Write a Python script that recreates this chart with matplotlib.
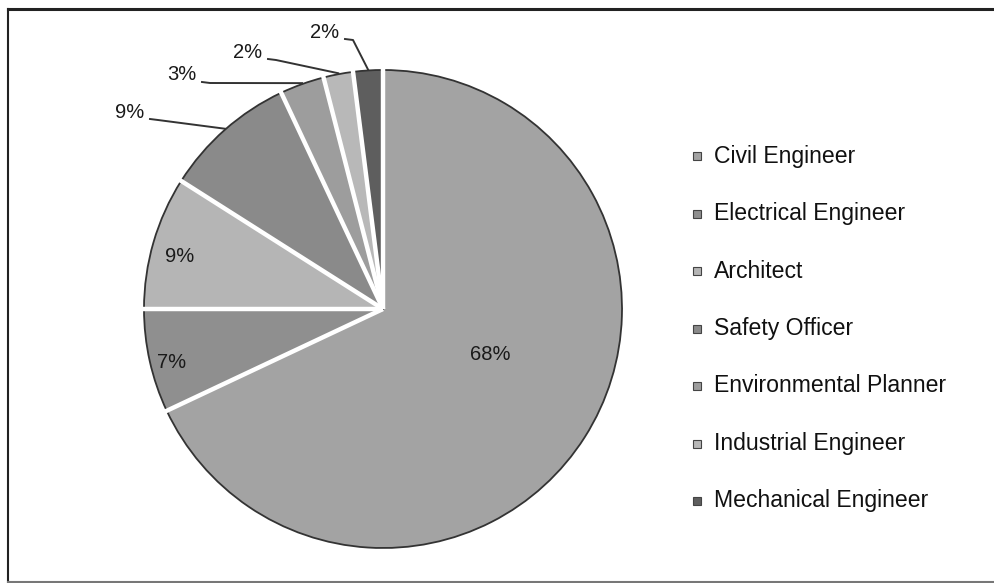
import matplotlib
matplotlib.use('Agg')
import matplotlib.pyplot as plt
import numpy as np
from matplotlib.patches import Rectangle

plt.rcParams['font.family'] = ['Liberation Sans', 'DejaVu Sans']

# data
jobs = ['Civil Engineer', 'Electrical Engineer', 'Architect', 'Safety Officer',
        'Environmental Planner', 'Industrial Engineer', 'Mechanical Engineer']
shares = [68, 7, 9, 9, 3, 2, 2]
grays = ['#a3a3a3', '#8f8f8f', '#b5b5b5', '#8a8a8a', '#9d9d9d', '#b8b8b8', '#5e5e5e']

fig = plt.figure(figsize=(9.95, 5.83), dpi=100)
ax = fig.add_axes([0, 0, 1, 1])

cx, cy, r = 383, 274, 239
wedges, _ = ax.pie(shares, colors=grays, startangle=90, counterclock=False,
                   center=(cx, cy), radius=r,
                   wedgeprops=dict(edgecolor='#333333', linewidth=1.3))

# white gaps between slices
bounds = 90 - 360 * np.cumsum([0] + shares) / sum(shares)
for a in bounds[:-1]:
    t = np.deg2rad(a)
    ax.plot([cx, cx + (r + 2) * np.cos(t)], [cy, cy + (r + 2) * np.sin(t)],
            color='white', lw=3.2, solid_capstyle='butt', zorder=3)

# labels: inside for big slices, outside with leader lines for the rest
inside = {0: (490, 228), 1: (172, 220), 2: (180, 326)}
outside = {3: (130, 471), 4: (182, 508), 5: (248, 531), 6: (325, 551)}
for i, w in enumerate(wedges):
    txt = '%d%%' % shares[i]
    if i in inside:
        ax.text(*inside[i], txt, ha='center', va='center', fontsize=14.5,
                color='#1a1a1a', zorder=4)
    else:
        mid = np.deg2rad((w.theta1 + w.theta2) / 2)
        px, py = cx + r * np.cos(mid), cy + r * np.sin(mid)
        tx, ty = outside[i]
        ax.text(tx, ty, txt, ha='center', va='center', fontsize=14.5, color='#1a1a1a')
        kx, ky = tx + 20, ty - 7
        ax.plot([kx, kx + 8, px], [ky, ky - 1, py + 1],
                color='#333333', lw=1.4, zorder=4)

# legend drawn by hand to keep big row spacing
for i, name in enumerate(jobs):
    y = 427 - i * 57.5
    ax.add_patch(Rectangle((693, y - 4), 8, 8, facecolor=grays[i],
                           edgecolor='#444444', lw=0.8))
    ax.text(714, y, name, ha='left', va='center', fontsize=16.6, color='#111111')

ax.set_xlim(0, 995)
ax.set_ylim(0, 583)
ax.set_aspect('equal')
ax.axis('off')

# frame lines
ax.plot([8, 995], [574, 574], color='#222222', lw=2.2)
ax.plot([8, 8], [1, 574], color='#222222', lw=1.5)
ax.plot([8, 995], [1.5, 1.5], color='#777777', lw=1.5)

plt.savefig('out.png', dpi=100)
plt.close('all')
